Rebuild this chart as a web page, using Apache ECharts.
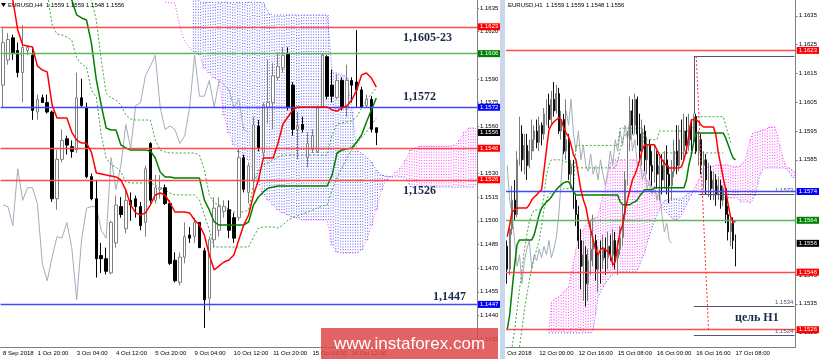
<!DOCTYPE html>
<html><head><meta charset="utf-8">
<script src="https://cdn.jsdelivr.net/npm/echarts@6/dist/echarts.min.js"></script>
<style>html,body{margin:0;padding:0;background:#fff}#c{width:820px;height:359px}</style>
</head><body><div id="c"></div><script>
// ---------- categories ----------
const leftDays = ['28 Sep','1 Oct','2 Oct','3 Oct','4 Oct','5 Oct','8 Oct','9 Oct','10 Oct','11 Oct','12 Oct','15 Oct','16 Oct','17 Oct','18 Oct','19 Oct','22 Oct'];
const h4Hours = ['00:00','04:00','08:00','12:00','16:00','20:00'];
const rightDays = ['11 Oct','12 Oct','15 Oct','16 Oct','17 Oct','18 Oct'];
const h1Hours = ['00:00','01:00','02:00','03:00','04:00','05:00','06:00','07:00','08:00','09:00','10:00','11:00','12:00','13:00','14:00','15:00','16:00','17:00','18:00','19:00','20:00','21:00','22:00','23:00'];
const leftTickIdx = [0,7,15,23,31,39,47,55,63,71];
const leftTickText = ['8 Sep 2018','1 Oct 20:00','3 Oct 04:00','4 Oct 12:00','5 Oct 20:00','9 Oct 04:00','10 Oct 12:00','11 Oct 20:00','15 Oct 04:00','16 Oct 12:00'];
const rightTickIdx = [0,13,29,45,61,77,93];
const rightTickText = ['Oct 2018','12 Oct 00:00','12 Oct 16:00','15 Oct 08:00','16 Oct 00:00','16 Oct 16:00','17 Oct 08:00'];
const leftYTicks = [1.1425,1.1440,1.1455,1.1470,1.1485,1.1500,1.1515,1.1530,1.1560,1.1575,1.1590,1.1620,1.1635];
const rightYTicks = [1.1525,1.1535,1.1545,1.1585,1.1595,1.1605,1.1615,1.1625,1.1635];

// ---------- H4 (left) ----------  [open, close, low, high]
const leftCandles = [
[1.1586,1.1613,1.1572,1.1622],[1.1602,1.1615,1.1599,1.1619],[1.1616,1.1606,1.1602,1.1618],[1.1608,1.1594,1.1591,1.1613],
[1.1594,1.1610,1.1575,1.1624],[1.1608,1.1610,1.1605,1.1611],[1.1605,1.1570,1.1564,1.1610],[1.1569,1.1577,1.1564,1.1580],
[1.1578,1.1575,1.1575,1.1580],[1.1575,1.1569,1.1568,1.1580],[1.1569,1.1514,1.1512,1.1570],[1.1514,1.1539,1.1507,1.1545],
[1.1539,1.1551,1.1537,1.1558],[1.1552,1.1548,1.1542,1.1554],[1.1547,1.1544,1.1540,1.1551],[1.1545,1.1578,1.1543,1.1594],
[1.1578,1.1573,1.1572,1.1590],[1.1572,1.1528,1.1527,1.1575],[1.1528,1.1514,1.1513,1.1530],[1.1514,1.1476,1.1464,1.1526],
[1.1478,1.1476,1.1467,1.1486],[1.1476,1.1468,1.1466,1.1483],[1.1467,1.1499,1.1466,1.1500],[1.1486,1.1510,1.1483,1.1516],
[1.1509,1.1504,1.1502,1.1515],[1.1495,1.1513,1.1492,1.1520],[1.1513,1.1510,1.1500,1.1518],[1.1514,1.1509,1.1502,1.1516],
[1.1509,1.1497,1.1494,1.1512],[1.1499,1.1533,1.1490,1.1535],[1.1549,1.1513,1.1511,1.1550],[1.1513,1.1521,1.1511,1.1529],
[1.1520,1.1521,1.1514,1.1529],[1.1521,1.1511,1.1510,1.1523],[1.1511,1.1473,1.1472,1.1513],[1.1475,1.1462,1.1461,1.1480],
[1.1461,1.1477,1.1459,1.1480],[1.1477,1.1490,1.1473,1.1499],[1.1491,1.1489,1.1486,1.1496],[1.1490,1.1499,1.1486,1.1502],
[1.1499,1.1483,1.1483,1.1499],[1.1481,1.1450,1.1432,1.1483],[1.1451,1.1488,1.1443,1.1490],[1.1488,1.1508,1.1483,1.1515],
[1.1494,1.1509,1.1490,1.1515],[1.1506,1.1509,1.1502,1.1513],[1.1507,1.1494,1.1489,1.1513],[1.1502,1.1489,1.1486,1.1505],
[1.1502,1.1540,1.1500,1.1546],[1.1540,1.1520,1.1518,1.1542],[1.1518,1.1535,1.1511,1.1537],[1.1526,1.1561,1.1518,1.1566],
[1.1560,1.1546,1.1544,1.1564],[1.1543,1.1573,1.1540,1.1575],[1.1572,1.1575,1.1562,1.1602],[1.1575,1.1592,1.1558,1.1600],
[1.1591,1.1598,1.1589,1.1606],[1.1597,1.1605,1.1594,1.1610],[1.1606,1.1572,1.1570,1.1610],[1.1586,1.1558,1.1554,1.1588],
[1.1558,1.1560,1.1539,1.1569],[1.1561,1.1558,1.1556,1.1566],[1.1540,1.1549,1.1534,1.1556],[1.1546,1.1554,1.1543,1.1558],
[1.1544,1.1572,1.1543,1.1573],[1.1572,1.1605,1.1572,1.1606],[1.1604,1.1579,1.1577,1.1605],[1.1586,1.1579,1.1575,1.1596],
[1.1578,1.1589,1.1577,1.1593],[1.1589,1.1572,1.1570,1.1591],[1.1572,1.1589,1.1566,1.1599],[1.1589,1.1586,1.1575,1.1591],
[1.1588,1.1583,1.1572,1.1621],[1.1583,1.1572,1.1572,1.1585],[1.1573,1.1577,1.1572,1.1580],[1.1577,1.1558,1.1556,1.1579],
[1.1559,1.1556,1.1548,1.1559]];
const leftTenkan = [1.1650,1.1645,1.1640,1.1621,1.16115,1.16108,1.16102,1.15982,1.15956,1.15944,
1.15734,1.15652,1.15652,1.15652,1.15563,1.15512,1.15493,1.15493,1.15436,1.15303,
1.15297,1.1529,1.15284,1.15278,1.15259,1.15195,1.151,1.1505,1.15037,1.1505,
1.151,1.15164,1.15176,1.15164,1.15113,1.15056,1.15056,1.15056,1.1505,1.15005,
1.14973,1.1491,1.14783,1.14688,1.14714,1.14739,1.14752,1.14783,1.14878,1.14973,
1.15037,1.15164,1.15259,1.15398,1.15398,1.15398,1.15493,1.15614,1.15658,1.15703,
1.15722,1.15722,1.15722,1.15722,1.15722,1.15722,1.15722,1.15703,1.15696,1.15715,
1.15728,1.15766,1.15829,1.15925,1.15937,1.15905,1.15848];
const leftKijun = [1.1660,1.1660,1.1660,1.1660,1.1660,1.1660,1.1660,1.1660,1.1660,1.1660,
1.1660,1.1660,1.1660,1.1650,1.1640,1.16305,1.16286,1.16273,1.16127,1.15893,
1.15734,1.15588,1.15576,1.15576,1.15481,1.15462,1.15449,1.15449,1.15449,1.15449,
1.15443,1.15398,1.1531,1.15278,1.15278,1.15271,1.15271,1.15271,1.15271,1.15271,
1.15271,1.15132,1.15069,1.14993,1.14973,1.14973,1.14973,1.14973,1.14973,1.14973,
1.14993,1.151,1.15151,1.15183,1.15208,1.15214,1.15221,1.15221,1.15221,1.15221,
1.15221,1.15221,1.15221,1.15221,1.15221,1.15221,1.15221,1.1529,1.1543,1.15449,
1.15455,1.15462,1.155,1.15544,1.15627,1.15703,1.15779];
const leftChikou = [1.1510,1.1509,1.1497,1.1533,1.1513,1.1521,1.1521,1.1511,1.1473,1.1462,
1.1477,1.1490,1.1489,1.1499,1.1483,1.1450,1.1488,1.1508,1.1509,1.1509,
1.1494,1.1489,1.1540,1.1520,1.1535,1.1561,1.1546,1.1573,1.1575,1.1592,
1.1598,1.1605,1.1572,1.1558,1.1560,1.1558,1.1549,1.1554,1.1572,1.1605,
1.1579,1.1579,1.1589,1.1572,1.1589,1.1586,1.1583,1.1572,1.1577,1.1558,1.1556];
const leftDot1 = [null,null,null,null,null,null,null,null,null,1.1645,
1.16241,1.16184,1.16178,1.16165,1.16146,1.16032,1.15994,1.15975,1.15829,1.15785,
1.15544,1.15398,1.15354,1.15341,1.1531,1.15246,1.1524,1.1524,1.1524,1.1524,
1.1524,1.15227,1.15208,1.15195,1.15176,1.15164,1.15164,1.15164,1.15164,1.15164,
1.15132,1.15037,1.14942,1.14834,1.14834,1.14834,1.14834,1.14834,1.14834,1.14834,
1.14834,1.14897,1.14954,1.14961,1.14961,1.14961,1.14954,1.14973,1.15005,1.15018,
1.15031,1.15043,1.15056,1.15069,1.15081,1.15094,1.151,1.15195,1.15271,1.15335,
1.15398,1.15449,1.15493,1.15525,1.15563,1.15607,1.15652];
const leftDot2 = [null,null,null,null,null,null,null,null,null,null,
null,null,null,null,null,null,null,1.1648,1.1640,1.16273,
1.1602,1.1581,1.15779,1.15766,1.15734,1.15671,1.15646,1.15639,1.15639,1.15639,
1.15639,1.15512,1.15449,1.15436,1.1543,1.1543,1.1543,1.1543,1.1543,1.1543,
1.15417,1.15322,1.15164,1.15113,1.151,1.15088,1.15075,1.15056,1.15056,1.15056,
1.15069,1.15227,1.15322,1.15354,1.15367,1.15386,1.15405,1.15417,1.15417,1.15417,
1.15417,1.15417,1.15417,1.15417,1.15417,1.15417,1.15417,1.15544,1.15614,1.1562,
1.15627,1.15633,1.15658,1.15715,1.15766,1.15804,1.15842];
const leftSpanA = [null,null,null,null,null,null,null,null,null,null,
null,null,null,null,null,null,null,null,null,null,
null,null,null,null,null,null,null,null,null,null,
null,null,null,1.16387,1.16381,1.16381,1.16229,1.16134,1.16096,1.1607,
1.16051,1.15969,1.15937,1.15905,1.15893,1.15671,1.15557,1.15481,1.15436,1.15411,
1.15386,1.15322,1.15227,1.15164,1.15132,1.151,1.15069,1.1505,1.15037,1.15024,
1.15018,1.15005,1.15005,1.15005,1.15005,1.15005,1.15005,1.14847,1.14802,1.14796,
1.14796,1.14796,1.14796,1.14815,1.14878,1.14973,1.15069,1.15195,1.15259,1.15284,
1.1531,1.15335,1.15386,1.15449,1.15462,1.15474,1.15474,1.15474,1.15474,1.15474,
1.15474,1.15474,1.15481,1.15512,1.15563,1.15589,1.15589];
const leftSpanB = [null,null,null,null,null,null,null,null,null,null,
null,null,null,null,null,null,null,null,null,null,
null,null,null,null,null,null,null,null,null,null,
null,null,null,null,null,null,null,null,null,1.1645,
1.16385,1.16385,1.16385,1.16385,1.16385,1.16385,1.16385,1.16385,1.16385,1.16385,
1.16385,1.16385,1.16385,1.16385,1.16318,1.16305,1.16305,1.16305,1.16305,1.16305,
1.16305,1.16305,1.16305,1.16305,1.16305,1.16305,1.16305,1.15944,1.15937,1.15925,
1.15912,1.15703,1.15449,1.1543,1.15405,1.15373,1.15322,1.1529,1.15284,1.15278,
1.15278,1.15278,1.15278,1.15214,1.15214,1.15214,1.15214,1.15214,1.15214,1.15214,
1.15214,1.15214,1.15214,1.15214,1.15214,1.15214,1.15214];
const leftLevels = [1.1623,1.1606,1.1572,1.1546,1.1526,1.1447];
const leftLevelKinds = ['r','g','b','r','r','b'];
const lastPrice = 1.1556;

// ---------- H1 (right) ----------
const rightCandles = [
[1.1555,1.1547,1.1542,1.1557],[1.1547,1.1561,1.1545,1.1562],[1.1561,1.1571,1.1559,1.1576],[1.1571,1.1566,1.1564,1.1578],
[1.1566,1.1585,1.1565,1.1588],[1.1585,1.1594,1.1583,1.1600],[1.1594,1.1585,1.1581,1.1597],[1.1585,1.1590,1.1580,1.1594],
[1.1590,1.1583,1.1578,1.1594],[1.1583,1.1588,1.1582,1.1592],[1.1588,1.1592,1.1585,1.1599],[1.1592,1.1595,1.1588,1.1597],
[1.1595,1.1591,1.1589,1.1599],[1.1591,1.1597,1.1588,1.1600],[1.1597,1.1594,1.1590,1.1598],[1.1594,1.1601,1.1592,1.1603],
[1.1601,1.1604,1.1597,1.1606],[1.1604,1.1599,1.1596,1.1608],[1.1599,1.1606,1.1597,1.1609],[1.1606,1.1602,1.1600,1.1612],
[1.1602,1.1608,1.1601,1.1611],[1.1608,1.1595,1.1594,1.1610],[1.1595,1.1599,1.1592,1.1602],[1.1599,1.1588,1.1587,1.1601],
[1.1588,1.1592,1.1585,1.1606],[1.1592,1.1580,1.1578,1.1594],[1.1580,1.1583,1.1575,1.1585],[1.1583,1.1571,1.1568,1.1585],
[1.1571,1.1566,1.1562,1.1573],[1.1566,1.1557,1.1554,1.1569],[1.1557,1.1548,1.1540,1.1561],[1.1548,1.1552,1.1536,1.1557],
[1.1552,1.1542,1.1534,1.1555],[1.1542,1.1550,1.1536,1.1554],[1.1550,1.1554,1.1545,1.1564],[1.1554,1.1557,1.1548,1.1566],
[1.1557,1.1547,1.1543,1.1559],[1.1547,1.1552,1.1539,1.1555],[1.1552,1.1550,1.1542,1.1557],[1.1550,1.1554,1.1547,1.1559],
[1.1554,1.1551,1.1545,1.1558],[1.1551,1.1555,1.1547,1.1560],[1.1555,1.1552,1.1550,1.1559],[1.1552,1.1557,1.1548,1.1561],
[1.1557,1.1551,1.1547,1.1560],[1.1551,1.1554,1.1545,1.1557],[1.1554,1.1558,1.1552,1.1562],[1.1558,1.1566,1.1555,1.1569],
[1.1566,1.1578,1.1564,1.1581],[1.1578,1.1592,1.1576,1.1595],[1.1592,1.1602,1.1588,1.1607],[1.1602,1.1597,1.1594,1.1606],
[1.1597,1.1606,1.1594,1.1608],[1.1606,1.1594,1.1590,1.1607],[1.1594,1.1588,1.1585,1.1601],[1.1588,1.1595,1.1583,1.1599],
[1.1595,1.1585,1.1581,1.1597],[1.1585,1.1590,1.1580,1.1593],[1.1590,1.1583,1.1578,1.1592],[1.1583,1.1581,1.1576,1.1588],
[1.1581,1.1587,1.1577,1.1590],[1.1587,1.1580,1.1575,1.1588],[1.1580,1.1583,1.1571,1.1586],[1.1583,1.1578,1.1573,1.1587],
[1.1578,1.1585,1.1575,1.1588],[1.1585,1.1580,1.1573,1.1590],[1.1580,1.1576,1.1570,1.1583],[1.1576,1.1581,1.1571,1.1585],
[1.1581,1.1588,1.1579,1.1592],[1.1588,1.1583,1.1580,1.1597],[1.1583,1.1592,1.1581,1.1597],[1.1592,1.1588,1.1585,1.1599],
[1.1588,1.1595,1.1585,1.1601],[1.1595,1.1590,1.1587,1.1600],[1.1590,1.1597,1.1588,1.1601],[1.1597,1.1592,1.1588,1.1599],
[1.1592,1.1600,1.1590,1.1601],[1.1600,1.1588,1.1587,1.1601],[1.1588,1.1592,1.1583,1.1595],[1.1592,1.1583,1.1580,1.1594],
[1.1583,1.1585,1.1575,1.1588],[1.1585,1.1578,1.1573,1.1587],[1.1578,1.1581,1.1572,1.1584],[1.1581,1.1575,1.1571,1.1583],
[1.1575,1.1578,1.1571,1.1581],[1.1578,1.1573,1.1569,1.1580],[1.1573,1.1576,1.1571,1.1579],[1.1576,1.1571,1.1568,1.1578],
[1.1571,1.1575,1.1569,1.1576],[1.1575,1.1566,1.1563,1.1575],[1.1566,1.1560,1.1557,1.1569],[1.1560,1.1563,1.1555,1.1565],
[1.1563,1.1557,1.1554,1.1565],[1.1559,1.1556,1.1548,1.1559]];
const rightTenkan = [1.15583,1.15624,1.15669,1.15676,1.15683,1.15683,1.15683,1.15683,1.15683,1.15694,
1.15711,1.15721,1.15728,1.15739,1.15746,1.15815,1.15885,1.15954,1.15971,1.15982,
1.15989,1.15996,1.15989,1.15961,1.15943,1.1593,1.15902,1.15867,1.1585,1.15798,
1.15746,1.15711,1.15687,1.15642,1.15607,1.15572,1.15538,1.1552,1.15538,1.15544,
1.15538,1.15531,1.1552,1.15485,1.15496,1.15555,1.156,1.15624,1.15676,1.15711,
1.15746,1.1578,1.15798,1.15822,1.1585,1.15885,1.15902,1.15902,1.15902,1.15902,
1.15902,1.15885,1.15867,1.1585,1.15839,1.15829,1.15822,1.15822,1.15822,1.15822,
1.15822,1.15826,1.1585,1.15885,1.15937,1.15989,1.15989,1.15989,1.15982,1.15971,
1.15964,1.15964,1.15964,1.15964,1.15964,1.15937,1.15874,1.15832,1.15787,1.15746,
1.15694,1.15652,1.15635,1.15635];
const rightKijun = [1.1526,1.15312,1.15399,1.15485,1.15555,1.15572,1.15572,1.15572,1.15572,1.15572,
1.15572,1.1559,1.15624,1.15659,1.15683,1.15694,1.15704,1.15711,1.15721,1.15735,
1.15746,1.15756,1.15763,1.1577,1.15774,1.15774,1.1576,1.15739,1.15728,1.15728,
1.15728,1.15728,1.15728,1.15728,1.15728,1.15728,1.15728,1.15728,1.15728,1.15728,
1.15728,1.15728,1.15728,1.15728,1.15728,1.15728,1.15704,1.15694,1.15694,1.15694,
1.15694,1.15701,1.15704,1.15711,1.15725,1.15735,1.15746,1.15746,1.15746,1.15746,
1.15753,1.15753,1.15753,1.15753,1.15753,1.15753,1.15753,1.15753,1.15753,1.15753,
1.15753,1.15753,1.15753,1.1578,1.15832,1.15867,1.15912,1.15943,1.15943,1.15943,
1.15943,1.15943,1.15943,1.15943,1.15943,1.15943,1.15943,1.15943,1.15943,1.15926,
1.15902,1.15878,1.15857,1.1585];
const rightChikou = [1.1583,1.1571,1.1566,1.1557,1.1548,1.1552,1.1542,1.1550,1.1554,1.1557,
1.1547,1.1552,1.1550,1.1554,1.1551,1.1555,1.1552,1.1557,1.1551,1.1554,
1.1558,1.1566,1.1578,1.1592,1.1602,1.1597,1.1606,1.1594,1.1588,1.1595,
1.1585,1.1590,1.1583,1.1581,1.1587,1.1580,1.1583,1.1578,1.1585,1.1580,
1.1576,1.1581,1.1588,1.1583,1.1592,1.1588,1.1595,1.1590,1.1597,1.1592,
1.1600,1.1588,1.1592,1.1583,1.1585,1.1578,1.1581,1.1575,1.1578,1.1573,
1.1576,1.1571,1.1575,1.1566,1.1560,1.1563,1.1557,1.1556];
const rightDot1 = [null,null,1.15201,1.1526,1.15329,1.15399,1.15468,1.15538,1.1559,1.15635,
1.15659,1.15676,1.15676,1.15676,1.15676,1.15728,1.15798,1.15832,1.1585,1.1585,
1.1585,1.1585,1.1585,1.15843,1.15843,1.15843,1.15843,1.15822,1.15822,1.15822,
1.15822,1.15822,1.15822,1.15822,1.15822,1.15822,1.15822,1.15822,1.15822,1.15822,
1.15822,1.15822,1.15822,1.15822,1.15822,1.1585,1.15885,1.15919,1.15937,1.15937,
1.15937,1.15937,1.15937,1.15937,1.15937,1.15937,1.15902,1.15902,1.15902,1.15902,
1.15902,1.15874,1.15874,1.15874,1.15874,1.15874,1.15874,1.15874,1.15874,1.15874,
1.15874,1.15874,1.15874,1.15874,1.15874,1.15874,1.15874,1.15874,1.15874,1.15874,
1.15874,1.15874,1.15874,1.15874,1.15874,1.15874,1.15874,1.15874,1.15874];
const rightDot2 = [null,null,null,null,null,1.1520,1.1526,1.1533,1.1538,1.1543,
1.15475,1.1551,1.15538,1.1557,1.1562,1.1568,1.1571,1.1573,1.1574,1.1574,
1.1574,1.1574,1.1574,1.1575,1.1575,1.1575,1.1575,1.1575,1.1590,1.1590,
1.1590,1.1590,1.1590,1.1590,1.1590,1.1590,1.1590,1.1590,1.1590,1.1590,
1.1590,1.1590,1.1590,1.1590,1.1590,1.1590,1.1596,1.1596,1.1596,1.1596,
1.1596,1.1596,1.1596,1.1596,1.1596,1.1596,1.1592,1.1592,1.1592,1.1592,
1.1592,1.1592,1.1595,1.1595,1.1595,1.1595,1.1595,1.1595,1.1595,1.1595,
1.1595,1.1595,1.1595,1.1595,1.1595,1.1595,1.1597,1.1600,1.1600,1.1600,
1.1600,1.1600,1.1600,1.1600,1.1600,1.1600,1.1600,1.1600,1.1600,1.1597,
1.1594,1.1591];
const rightSpanA = [null,null,null,null,null,null,null,null,null,null,
null,null,null,null,null,null,null,1.1526,1.15354,1.15364,
1.15371,1.15374,1.15381,1.15392,1.15399,1.15409,1.15451,1.15496,1.15538,1.15572,
1.1559,1.15607,1.15621,1.15631,1.15642,1.15645,1.15649,1.15652,1.15694,1.15728,
1.15756,1.15798,1.15839,1.1585,1.1585,1.1585,1.1585,1.1585,1.1585,1.1585,
1.1585,1.1585,1.1585,1.15843,1.15832,1.15815,1.15798,1.1578,1.15763,1.15756,
1.15746,1.15728,1.15711,1.15694,1.15676,1.15666,1.15659,1.15649,1.15642,1.15642,
1.15649,1.15659,1.15676,1.15694,1.15711,1.15728,1.15746,1.15763,1.1578,1.15798,
1.15815,1.15822,1.15826,1.15826,1.15829,1.15832,1.15832,1.15832,1.15832,1.15832,
1.15832,1.15829,1.15826,1.15826,1.15826,1.15829,1.15839,1.1585,1.15885,1.15919,
1.15943,1.15947,1.15947,1.1595,1.15954,1.15954,1.15961,1.15964,1.15964,1.15964,
1.15937,1.15902,1.15867,1.15839,1.15822,1.15822,1.15815,1.15808];
const rightSpanB = [null,null,null,null,null,null,null,null,null,null,
null,null,null,null,null,null,null,1.15249,1.15249,1.15249,
1.15249,1.15249,1.15249,1.15249,1.15249,1.15249,1.15249,1.15249,1.15249,1.15249,
1.15249,1.15249,1.15249,1.15249,1.15249,1.1526,1.15312,1.15374,1.15392,1.15406,
1.15423,1.15433,1.15444,1.15451,1.15458,1.15461,1.15461,1.15461,1.15461,1.15461,
1.15461,1.15461,1.15461,1.15468,1.15485,1.1551,1.15527,1.15562,1.1559,1.15614,
1.15635,1.15659,1.15676,1.15694,1.15708,1.15711,1.15715,1.15715,1.15715,1.15715,
1.15715,1.15715,1.15721,1.15728,1.15739,1.15739,1.15739,1.15739,1.15739,1.15739,
1.15739,1.15728,1.15728,1.15728,1.15728,1.15728,1.15728,1.15728,1.15728,1.15718,
1.15718,1.15718,1.15718,1.15718,1.15718,1.15704,1.15704,1.15704,1.15704,1.15701,
1.15711,1.15728,1.15763,1.15798,1.15815,1.15822,1.15822,1.15822,1.15822,1.15822,
1.15822,1.15822,1.15822,1.15822,1.15815,1.15805,1.15791,1.15787];
const rightLevels = [1.1623,1.1574,1.1564,1.1546,1.1526];
const rightLevelKinds = ['r','b','g','r','r'];
const targetLines = [1.1573,1.1534,1.1524];
const targetStart = [78,76,76];
const boxTop = 1.1621, boxTopEnd = 1.1601, boxCat = 76;
const trendFrom = [77, 1.1621], trendTo = [82, 1.1526];

// ---------- build ----------
const leftCats = [];
leftDays.forEach(d => h4Hours.forEach(h => leftCats.push(d + ' ' + h)));
leftCats.splice(0, 4); leftCats.length = 97;
const rightCats = [];
rightDays.forEach(d => h1Hours.forEach(h => rightCats.push(d + ' ' + h)));
rightCats.splice(0, 11); rightCats.length = 118;

const FONT = 'Liberation Sans';
const MAG = '#ff44ff', CBLUE = '#5c5cff';
const lineCol = {r:'#ff4a4a', g:'#5cb85c', b:'#4646ff'};
const boxCol = {r:'#ff0000', g:'#008000', b:'#0000ff'};

function cloudData(A, B) {
  const out = [];
  for (let i = 0; i < A.length; i++) if (A[i] != null && B[i] != null) out.push([i, A[i], B[i]]);
  return out;
}
function cloudRender(offsets) {
  return function (params, api) {
    const i = api.value(0), a = api.value(1), b = api.value(2);
    const pa = api.coord([i, a]), pb = api.coord([i, b]);
    const col = b > a ? CBLUE : MAG;
    return { type: 'group', children: offsets.map(o => ({
      type: 'line', shape: { x1: pa[0] + o, y1: pa[1], x2: pa[0] + o, y2: pb[1] },
      style: { stroke: col, lineWidth: 1, lineDash: [1, 1.8] } })) };
  };
}
function boxLabel(v, bg) {
  return { show: true, position: 'end', distance: 1, formatter: v.toFixed(4), backgroundColor: bg,
    color: '#fff', fontSize: 6, fontFamily: FONT, padding: [1, 2, 0, 2], lineHeight: 6 };
}
function levelData(levels, kinds) {
  const d = levels.map((v, i) => ({ yAxis: v, lineStyle: { color: lineCol[kinds[i]], width: 1.3, type: 'solid' },
    label: boxLabel(v, boxCol[kinds[i]]) }));
  d.push({ yAxis: lastPrice, lineStyle: { color: 'rgba(0,0,0,0)', width: 0 }, label: boxLabel(lastPrice, '#000') });
  return d;
}
function line(name, data, xi, color, width, type, z) {
  return { name, type: 'line', data, xAxisIndex: xi, yAxisIndex: xi, showSymbol: false, symbol: 'none',
    lineStyle: { color, width, type }, z, silent: true, animation: false };
}
function xAxisCfg(gi, cats, idx, texts) {
  const f = i => idx.indexOf(i) >= 0;
  return { type: 'category', gridIndex: gi, data: cats, boundaryGap: true,
    axisLine: { lineStyle: { color: '#808080' } },
    axisTick: { interval: f, alignWithLabel: true, length: 3, lineStyle: { color: '#808080' } },
    axisLabel: { interval: f, formatter: (v, i) => texts[idx.indexOf(i)], align: 'left', fontSize: 6,
      color: '#000', margin: 3, fontFamily: FONT },
    splitLine: { show: false } };
}
function yAxisCfg(gi, min, max, ticks) {
  return { type: 'value', gridIndex: gi, position: 'right', min, max,
    axisLine: { show: true, lineStyle: { color: '#808080' } },
    axisTick: { show: true, customValues: ticks, length: 2, lineStyle: { color: '#808080' } },
    axisLabel: { customValues: ticks, formatter: v => v.toFixed(4), fontSize: 6, margin: 3, color: '#000', fontFamily: FONT },
    splitLine: { show: false } };
}

const rightMark = levelData(rightLevels, rightLevelKinds);
const slate = '#55557a';
targetLines.forEach((v, i) => rightMark.push([
  { coord: [rightCats[targetStart[i]], v], lineStyle: { color: slate, width: 1, type: 'solid' },
    label: { show: true, position: 'insideEndTop', formatter: v.toFixed(4), color: '#55557a', fontSize: 6, fontFamily: FONT, distance: 1 } },
  { coord: [rightCats[117], v] }]));
rightMark.push([{ coord: [rightCats[boxCat], boxTop], lineStyle: { color: slate, width: 1, type: 'solid' }, label: { show: false } },
  { coord: [rightCats[117], boxTop] }]);
rightMark.push([{ coord: [rightCats[boxCat], boxTop], lineStyle: { color: slate, width: 1, type: 'solid' }, label: { show: false } },
  { coord: [rightCats[boxCat], boxTopEnd] }]);
rightMark.push([{ coord: [rightCats[trendFrom[0]], trendFrom[1]], lineStyle: { color: '#ff3030', width: 1, type: [2, 2] }, label: { show: false } },
  { coord: [rightCats[trendTo[0]], trendTo[1]] }]);

const serif = 'bold 12px "Liberation Serif"';
const ann = (t, x, y) => ({ type: 'text', z: 100, style: { text: t, x, y, font: serif, fill: '#1b2a48', align: 'left', verticalAlign: 'middle' } });
const mk = data => ({ silent: true, symbol: ['none', 'none'], animation: false, precision: 5, label: { show: false }, data });

const option = {
  animation: false,
  backgroundColor: '#ffffff',
  textStyle: { fontFamily: FONT },
  grid: [
    { left: 0, top: 0, width: 477, height: 347 },
    { left: 506, top: 0, width: 290, height: 347 }
  ],
  xAxis: [xAxisCfg(0, leftCats, leftTickIdx, leftTickText), xAxisCfg(1, rightCats, rightTickIdx, rightTickText)],
  yAxis: [yAxisCfg(0, 1.1420, 1.1640, leftYTicks), yAxisCfg(1, 1.1520, 1.16405, rightYTicks)],
  series: [
    { type: 'custom', xAxisIndex: 0, yAxisIndex: 0, data: cloudData(leftSpanA, leftSpanB), renderItem: cloudRender([-1.2, 1.2]),
      encode: { x: 0, y: [1, 2] }, clip: true, z: 1, silent: true },
    line('spanA', leftSpanA, 0, MAG, 1, [1, 2], 2),
    line('spanB', leftSpanB, 0, CBLUE, 1, [1, 2], 2),
    line('chikou', leftChikou, 0, '#a4acba', 1, 'solid', 2),
    line('dot1', leftDot1, 0, '#3aa83a', 1, [2, 2], 2),
    line('dot2', leftDot2, 0, '#3aa83a', 1, [2, 2], 2),
    { type: 'candlestick', xAxisIndex: 0, yAxisIndex: 0, data: leftCandles, barWidth: 3, z: 3, silent: true,
      itemStyle: { color: '#ffffff', color0: '#000000', borderColor: '#808080', borderColor0: '#000000', borderWidth: 1 } },
    line('kijun', leftKijun, 0, '#008000', 1.5, 'solid', 4),
    Object.assign(line('tenkan', leftTenkan, 0, '#ff0000', 1.5, 'solid', 5), { markLine: mk(levelData(leftLevels, leftLevelKinds)) }),

    { type: 'custom', xAxisIndex: 1, yAxisIndex: 1, data: cloudData(rightSpanA, rightSpanB), renderItem: cloudRender([0]),
      encode: { x: 0, y: [1, 2] }, clip: true, z: 1, silent: true },
    line('spanA', rightSpanA, 1, MAG, 1, [1, 2], 2),
    line('spanB', rightSpanB, 1, CBLUE, 1, [1, 2], 2),
    line('chikou', rightChikou, 1, '#a4acba', 1, 'solid', 2),
    line('dot1', rightDot1, 1, '#3aa83a', 1, [2, 2], 2),
    line('dot2', rightDot2, 1, '#3aa83a', 1, [2, 2], 2),
    { type: 'candlestick', xAxisIndex: 1, yAxisIndex: 1, data: rightCandles, barWidth: 1.4, z: 3, silent: true,
      itemStyle: { color: '#ffffff', color0: '#000000', borderColor: '#7a7a7a', borderColor0: '#111111', borderWidth: 1 } },
    line('kijun', rightKijun, 1, '#008000', 1.5, 'solid', 4),
    Object.assign(line('tenkan', rightTenkan, 1, '#ff0000', 1.5, 'solid', 5), { markLine: mk(rightMark) })
  ],
  graphic: { elements: [
    { type: 'rect', z: 90, shape: { x: 500, y: 0, width: 5, height: 359 }, style: { fill: '#c8d8ea' } },
    { type: 'polygon', z: 100, shape: { points: [[1, 3], [6, 3], [3.5, 7]] }, style: { fill: '#000' } },
    { type: 'text', z: 100, style: { text: 'EURUSD,H4  1.1559 1.1559 1.1548 1.1556', x: 8, y: 5, font: '6px "Liberation Sans"', fill: '#000', verticalAlign: 'middle' } },
    { type: 'text', z: 100, style: { text: 'EURUSD,H1  1.1559 1.1559 1.1548 1.1556', x: 508, y: 5, font: '6px "Liberation Sans"', fill: '#000', verticalAlign: 'middle' } },
    ann('1,1605-23', 403, 38), ann('1,1572', 403, 97), ann('1,1526', 403, 191), ann('1,1447', 433, 297), ann('цель H1', 735, 318),
    { type: 'rect', z: 110, shape: { x: 321, y: 328, width: 177, height: 31 }, style: { fill: 'rgba(220,72,72,0.85)' } },
    { type: 'text', z: 111, style: { text: 'www.instaforex.com', x: 409.5, y: 344, font: '17px "Liberation Sans"', fill: '#ffffff', align: 'center', verticalAlign: 'middle' } }
  ] }
};
const chart = echarts.init(document.getElementById('c'));
chart.setOption(option);
</script></body></html>
